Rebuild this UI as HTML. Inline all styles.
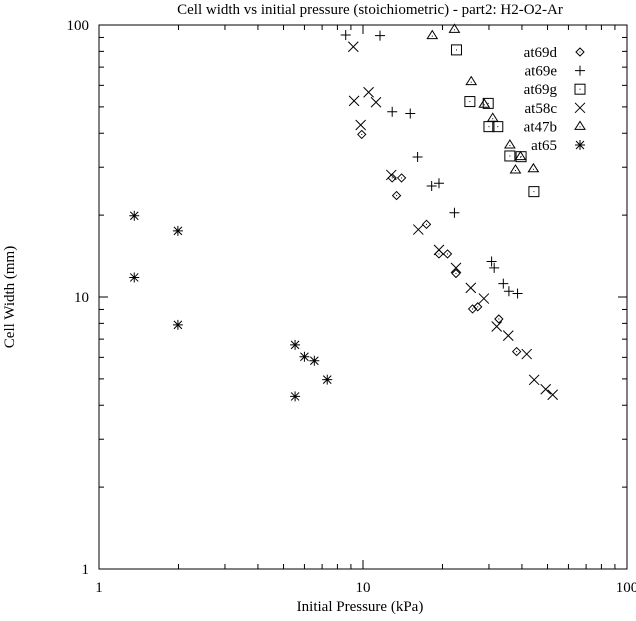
<!DOCTYPE html>
<html><head><meta charset="utf-8"><style>
body{margin:0;background:#fff}
svg text{font-family:"Liberation Serif",serif;font-size:15px;fill:#000}
</style></head><body>
<svg id="c" width="636" height="616" xmlns="http://www.w3.org/2000/svg">
<text x="370" y="14" text-anchor="middle">Cell width vs initial pressure (stoichiometric) - part2: H2-O2-Ar</text>
<text x="360" y="611" text-anchor="middle">Initial Pressure (kPa)</text>
<text transform="translate(14,297) rotate(-90)" text-anchor="middle">Cell Width (mm)</text>
<g id="axes"></g>
<g id="marks"></g>
<g id="legend"></g>
</svg>
<script>
const seriesNames=["at69d","at69e","at69g","at58c","at47b","at65"];
const at69dX=[9.89,12.9,14.0,13.4,17.4,19.4,20.9,22.5,26.0,27.2,32.7,38.2];
const at69dY=[39.6,27.4,27.4,23.6,18.5,14.4,14.4,12.2,9.04,9.2,8.3,6.3];
const at69eX=[8.6,11.6,12.9,15.1,16.1,18.2,19.4,22.2,30.7,31.4,34.0,35.7,38.5];
const at69eY=[91.9,91.4,48,47.3,32.7,25.6,26.2,20.4,13.5,12.8,11.2,10.5,10.3];
const at69gX=[22.6,25.4,29.8,30.0,32.4,36.0,39.7,44.4];
const at69gY=[81,52.3,51.5,42.3,42.3,33.0,32.8,24.4];
const at58cX=[9.19,9.25,10.5,11.2,9.8,12.8,16.2,19.4,22.5,25.6,28.7,32.1,35.5,41.7,44.5,49.2,52.3];
const at58cY=[83.2,52.6,56.6,52.0,42.9,28.1,17.7,14.9,12.8,10.8,9.87,7.79,7.21,6.17,4.96,4.58,4.37];
const at47bX=[18.3,22.2,25.7,28.8,31.0,36.0,39.5,37.8,44.2];
const at47bY=[91.4,96.4,61.9,51.1,45.4,36.2,32.8,29.3,29.6];
const at65X=[1.36,1.99,1.36,1.99,5.53,6.0,6.54,7.32,5.53];
const at65Y=[19.9,17.5,11.8,7.9,6.67,6.03,5.83,4.97,4.31];
const xTicks=[1,10,100];
const yTicks=[1,10,100];

const L=99,R=627,T=25,B=569;
const sx=v=>L+(R-L)*Math.log10(v)/2;
const sy=v=>B-(B-T)*Math.log10(v)/2;
const NS="http://www.w3.org/2000/svg";
function mk(tag,attrs,parent){const e=document.createElementNS(NS,tag);for(const k in attrs)e.setAttribute(k,attrs[k]);parent.appendChild(e);return e;}
const ax=document.getElementById('axes');
const frame=mk('rect',{x:L,y:T,width:R-L,height:B-T,fill:'none',stroke:'#000','stroke-width':1},ax);


for(let d=0;d<2;d++)for(let m=1;m<=10;m++){
  const v=Math.pow(10,d)*m; const len=(m===1||m===10)?9:5;
  const x=sx(v),y=sy(v);
  mk('line',{x1:x,y1:B,x2:x,y2:B-len,stroke:'#000'},ax);
  mk('line',{x1:x,y1:T,x2:x,y2:T+len,stroke:'#000'},ax);
  mk('line',{x1:L,y1:y,x2:L+len,y2:y,stroke:'#000'},ax);
  mk('line',{x1:R,y1:y,x2:R-len,y2:y,stroke:'#000'},ax);
}
xTicks.forEach(v=>{const t=mk('text',{x:sx(v),y:B+23,'text-anchor':'middle'},ax);t.textContent=v;

});
yTicks.forEach(v=>{const t=mk('text',{x:L-10,y:sy(v)+5,'text-anchor':'end'},ax);t.textContent=v;

});

function marker(type,x,y,p){
  const g=mk('g',{stroke:'#000','stroke-width':1,fill:'none'},p);
  if(type===0){mk('path',{d:`M${x-4},${y}L${x},${y-4}L${x+4},${y}L${x},${y+4}Z`},g);mk('rect',{x:x-0.5,y:y-0.5,width:1,height:1,fill:'#000',stroke:'none'},g);}
  else if(type===1){mk('path',{d:`M${x-5},${y}H${x+5}M${x},${y-5}V${y+5}`},g);}
  else if(type===2){mk('rect',{x:x-5,y:y-5,width:10,height:10},g);mk('rect',{x:x-0.5,y:y-0.5,width:1,height:1,fill:'#000',stroke:'none'},g);}
  else if(type===3){mk('path',{d:`M${x-5},${y-5}L${x+5},${y+5}M${x-5},${y+5}L${x+5},${y-5}`},g);}
  else if(type===4){mk('path',{d:`M${x},${y-5}L${x+5},${y+3}L${x-5},${y+3}Z`},g);mk('rect',{x:x-0.5,y:y,width:1,height:1,fill:'#000',stroke:'none'},g);}
  else {mk('path',{d:`M${x-5},${y}H${x+5}M${x},${y-5}V${y+5}M${x-4},${y-4}L${x+4},${y+4}M${x-4},${y+4}L${x+4},${y-4}`},g);}
  return g;
}
const data=[[at69dX,at69dY],[at69eX,at69eY],[at69gX,at69gY],[at58cX,at58cY],[at47bX,at47bY],[at65X,at65Y]];
const mg=document.getElementById('marks');
data.forEach((s,i)=>{s[0].forEach((xv,j)=>{
  const g=marker(i,sx(xv),sy(s[1][j]),mg);
  
  
});});
const lg=document.getElementById('legend');
seriesNames.forEach((n,i)=>{
  const y=52+i*18.6;
  const t=mk('text',{x:557,y:y+5,'text-anchor':'end'},lg);t.textContent=n;
  
  
  const g=marker(i,580,y,lg);
  
  
});
</script>
</body></html>
